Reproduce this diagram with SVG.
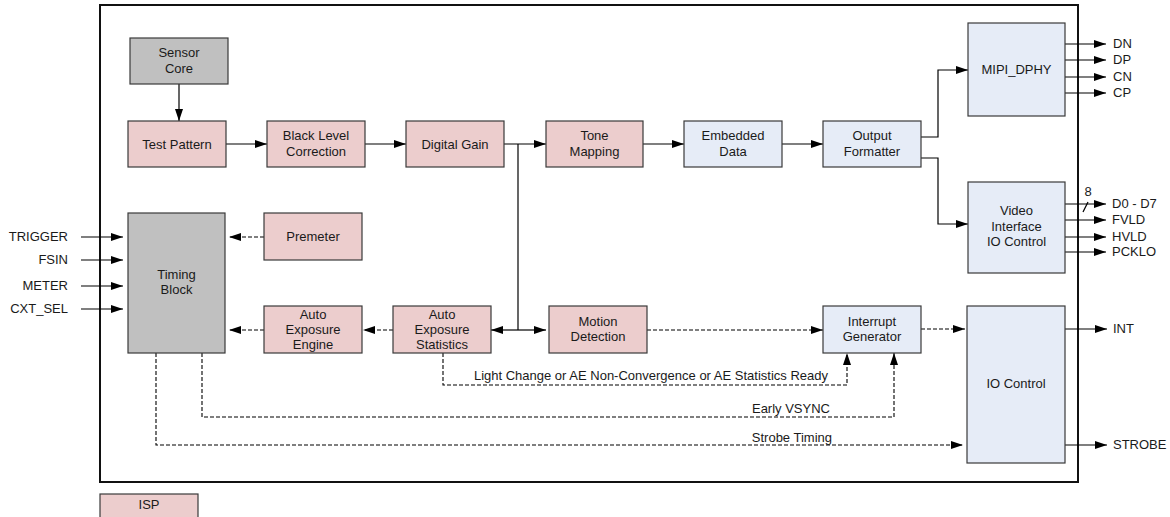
<svg xmlns="http://www.w3.org/2000/svg" width="1170" height="517" viewBox="0 0 1170 517">
  <style>
    .box { stroke: #3a3a3a; stroke-width: 1.2; }
    .isp { fill: #eccdcd; }
    .gray { fill: #c0c0c0; }
    .blue { fill: #e6ecf7; }
    text { font-family: "Liberation Sans", Arial, sans-serif; font-size: 13px; fill: #1a1a1a; }
    .c { text-anchor: middle; }
    .r { text-anchor: end; }
    .wire { fill: none; stroke: #000; stroke-width: 1.2; }
    .dash { fill: none; stroke: #000; stroke-width: 1.1; stroke-dasharray: 4 2; }
  </style>
  <defs>
    <marker id="arrow" markerUnits="userSpaceOnUse" markerWidth="13" markerHeight="9" refX="12" refY="4" orient="auto">
      <path d="M0,0 L12,4 L0,8 z" fill="#000"/>
    </marker>
  </defs>

  <rect x="0" y="0" width="1170" height="517" fill="#fff"/>

  <!-- chip outline -->
  <rect id="chip" x="100" y="5" width="978" height="477" fill="none" stroke="#111" stroke-width="2"/>

  <!-- connectors -->
  <g id="connectors">
    <!-- main pixel path -->
    <line class="wire" x1="179" y1="84" x2="179" y2="121" marker-end="url(#arrow)"/>
    <line class="wire" x1="226" y1="144" x2="267" y2="144" marker-end="url(#arrow)"/>
    <line class="wire" x1="365" y1="144" x2="406" y2="144" marker-end="url(#arrow)"/>
    <line class="wire" x1="504" y1="144" x2="546" y2="144" marker-end="url(#arrow)"/>
    <line class="wire" x1="643" y1="144" x2="684" y2="144" marker-end="url(#arrow)"/>
    <line class="wire" x1="782" y1="144" x2="823" y2="144" marker-end="url(#arrow)"/>
    <polyline class="wire" points="921,137 938,137 938,70 968,70" marker-end="url(#arrow)"/>
    <polyline class="wire" points="921,158 938,158 938,224 968,224" marker-end="url(#arrow)"/>

    <!-- tap from digital gain to statistics / motion -->
    <line class="wire" x1="518" y1="144" x2="518" y2="330"/>
    <line class="wire" x1="518" y1="330" x2="491" y2="330" marker-end="url(#arrow)"/>
    <line class="wire" x1="518" y1="330" x2="546" y2="330" marker-end="url(#arrow)"/>

    <!-- MIPI outputs -->
    <line class="wire" x1="1065" y1="44" x2="1106" y2="44" marker-end="url(#arrow)"/>
    <line class="wire" x1="1065" y1="60" x2="1106" y2="60" marker-end="url(#arrow)"/>
    <line class="wire" x1="1065" y1="77" x2="1106" y2="77" marker-end="url(#arrow)"/>
    <line class="wire" x1="1065" y1="93" x2="1106" y2="93" marker-end="url(#arrow)"/>

    <!-- parallel outputs -->
    <line class="wire" x1="1065" y1="204" x2="1106" y2="204" marker-end="url(#arrow)"/>
    <line class="wire" x1="1083" y1="212" x2="1088" y2="202"/>
    <line class="wire" x1="1065" y1="220" x2="1106" y2="220" marker-end="url(#arrow)"/>
    <line class="wire" x1="1065" y1="237" x2="1106" y2="237" marker-end="url(#arrow)"/>
    <line class="wire" x1="1065" y1="252" x2="1106" y2="252" marker-end="url(#arrow)"/>

    <!-- external inputs -->
    <line class="wire" x1="81" y1="237" x2="123" y2="237" marker-end="url(#arrow)"/>
    <line class="wire" x1="81" y1="260" x2="123" y2="260" marker-end="url(#arrow)"/>
    <line class="wire" x1="81" y1="286" x2="123" y2="286" marker-end="url(#arrow)"/>
    <line class="wire" x1="81" y1="309" x2="123" y2="309" marker-end="url(#arrow)"/>

    <!-- IO outputs -->
    <line class="wire" x1="1065" y1="329" x2="1107" y2="329" marker-end="url(#arrow)"/>
    <line class="wire" x1="1065" y1="445" x2="1107" y2="445" marker-end="url(#arrow)"/>

    <!-- control (dashed) -->
    <line class="dash" x1="264" y1="237" x2="229" y2="237" marker-end="url(#arrow)"/>
    <line class="dash" x1="264" y1="330" x2="229" y2="330" marker-end="url(#arrow)"/>
    <line class="dash" x1="393" y1="330" x2="363" y2="330" marker-end="url(#arrow)"/>
    <line class="dash" x1="647" y1="330" x2="823" y2="330" marker-end="url(#arrow)"/>
    <line class="dash" x1="921" y1="329" x2="965" y2="329" marker-end="url(#arrow)"/>
    <polyline class="dash" points="443,353 443,385 847,385 847,353" marker-end="url(#arrow)"/>
    <polyline class="dash" points="202,353 202,417 894,417 894,353" marker-end="url(#arrow)"/>
    <polyline class="dash" points="156,353 156,445 963,445" marker-end="url(#arrow)"/>
  </g>

  <!-- connector labels -->
  <g id="labels">
    <text class="r" x="828" y="380">Light Change or AE Non-Convergence or AE Statistics Ready</text>
    <text class="r" x="830" y="413">Early VSYNC</text>
    <text class="r" x="832" y="442">Strobe Timing</text>
    <text class="c" x="1088" y="196">8</text>
    <text x="1113" y="48">DN</text>
    <text x="1113" y="64">DP</text>
    <text x="1113" y="81">CN</text>
    <text x="1113" y="97">CP</text>
    <text x="1112" y="208">D0 - D7</text>
    <text x="1112" y="224">FVLD</text>
    <text x="1112" y="241">HVLD</text>
    <text x="1112" y="256">PCKLO</text>
    <text class="r" x="68" y="241">TRIGGER</text>
    <text class="r" x="68" y="264">FSIN</text>
    <text class="r" x="68" y="290">METER</text>
    <text class="r" x="68" y="313">CXT_SEL</text>
    <text x="1113" y="333">INT</text>
    <text x="1113" y="449">STROBE</text>
  </g>

  <!-- blocks -->
  <g id="sensor-core">
    <rect class="box gray" x="130" y="38" width="98" height="46"/>
    <text class="c" x="179" y="57">Sensor</text>
    <text class="c" x="179" y="73">Core</text>
  </g>
  <g id="test-pattern">
    <rect class="box isp" x="128" y="121" width="98" height="46"/>
    <text class="c" x="177" y="148.5">Test Pattern</text>
  </g>
  <g id="black-level">
    <rect class="box isp" x="267" y="121" width="98" height="46"/>
    <text class="c" x="316" y="140">Black Level</text>
    <text class="c" x="316" y="156">Correction</text>
  </g>
  <g id="digital-gain">
    <rect class="box isp" x="406" y="121" width="98" height="46"/>
    <text class="c" x="455" y="148.5">Digital Gain</text>
  </g>
  <g id="tone-mapping">
    <rect class="box isp" x="546" y="121" width="97" height="46"/>
    <text class="c" x="594.5" y="140">Tone</text>
    <text class="c" x="594.5" y="156">Mapping</text>
  </g>
  <g id="embedded-data">
    <rect class="box blue" x="684" y="121" width="98" height="46"/>
    <text class="c" x="733" y="140">Embedded</text>
    <text class="c" x="733" y="156">Data</text>
  </g>
  <g id="output-formatter">
    <rect class="box blue" x="823" y="121" width="98" height="46"/>
    <text class="c" x="872" y="140">Output</text>
    <text class="c" x="872" y="156">Formatter</text>
  </g>
  <g id="mipi-dphy">
    <rect class="box blue" x="968" y="23" width="97" height="93"/>
    <text class="c" x="1016.5" y="74">MIPI_DPHY</text>
  </g>
  <g id="video-interface">
    <rect class="box blue" x="968" y="182" width="97" height="91"/>
    <text class="c" x="1016.5" y="215">Video</text>
    <text class="c" x="1016.5" y="231">Interface</text>
    <text class="c" x="1016.5" y="246">IO Control</text>
  </g>
  <g id="timing-block">
    <rect class="box gray" x="128" y="213" width="97" height="140"/>
    <text class="c" x="176.5" y="279">Timing</text>
    <text class="c" x="176.5" y="294">Block</text>
  </g>
  <g id="premeter">
    <rect class="box isp" x="264" y="213" width="98" height="47"/>
    <text class="c" x="313" y="241">Premeter</text>
  </g>
  <g id="ae-engine">
    <rect class="box isp" x="264" y="306" width="98" height="47"/>
    <text class="c" x="313" y="319">Auto</text>
    <text class="c" x="313" y="334">Exposure</text>
    <text class="c" x="313" y="349">Engine</text>
  </g>
  <g id="ae-statistics">
    <rect class="box isp" x="393" y="306" width="98" height="47"/>
    <text class="c" x="442" y="319">Auto</text>
    <text class="c" x="442" y="334">Exposure</text>
    <text class="c" x="442" y="349">Statistics</text>
  </g>
  <g id="motion-detection">
    <rect class="box isp" x="549" y="306" width="98" height="47"/>
    <text class="c" x="598" y="326">Motion</text>
    <text class="c" x="598" y="341">Detection</text>
  </g>
  <g id="interrupt-generator">
    <rect class="box blue" x="823" y="306" width="98" height="47"/>
    <text class="c" x="872" y="326">Interrupt</text>
    <text class="c" x="872" y="341">Generator</text>
  </g>
  <g id="io-control">
    <rect class="box blue" x="967" y="306" width="98" height="157"/>
    <text class="c" x="1016" y="388">IO Control</text>
  </g>

  <!-- legend -->
  <g id="legend-isp">
    <rect class="box isp" x="100" y="494" width="98" height="30"/>
    <text class="c" x="149" y="509">ISP</text>
  </g>
</svg>
